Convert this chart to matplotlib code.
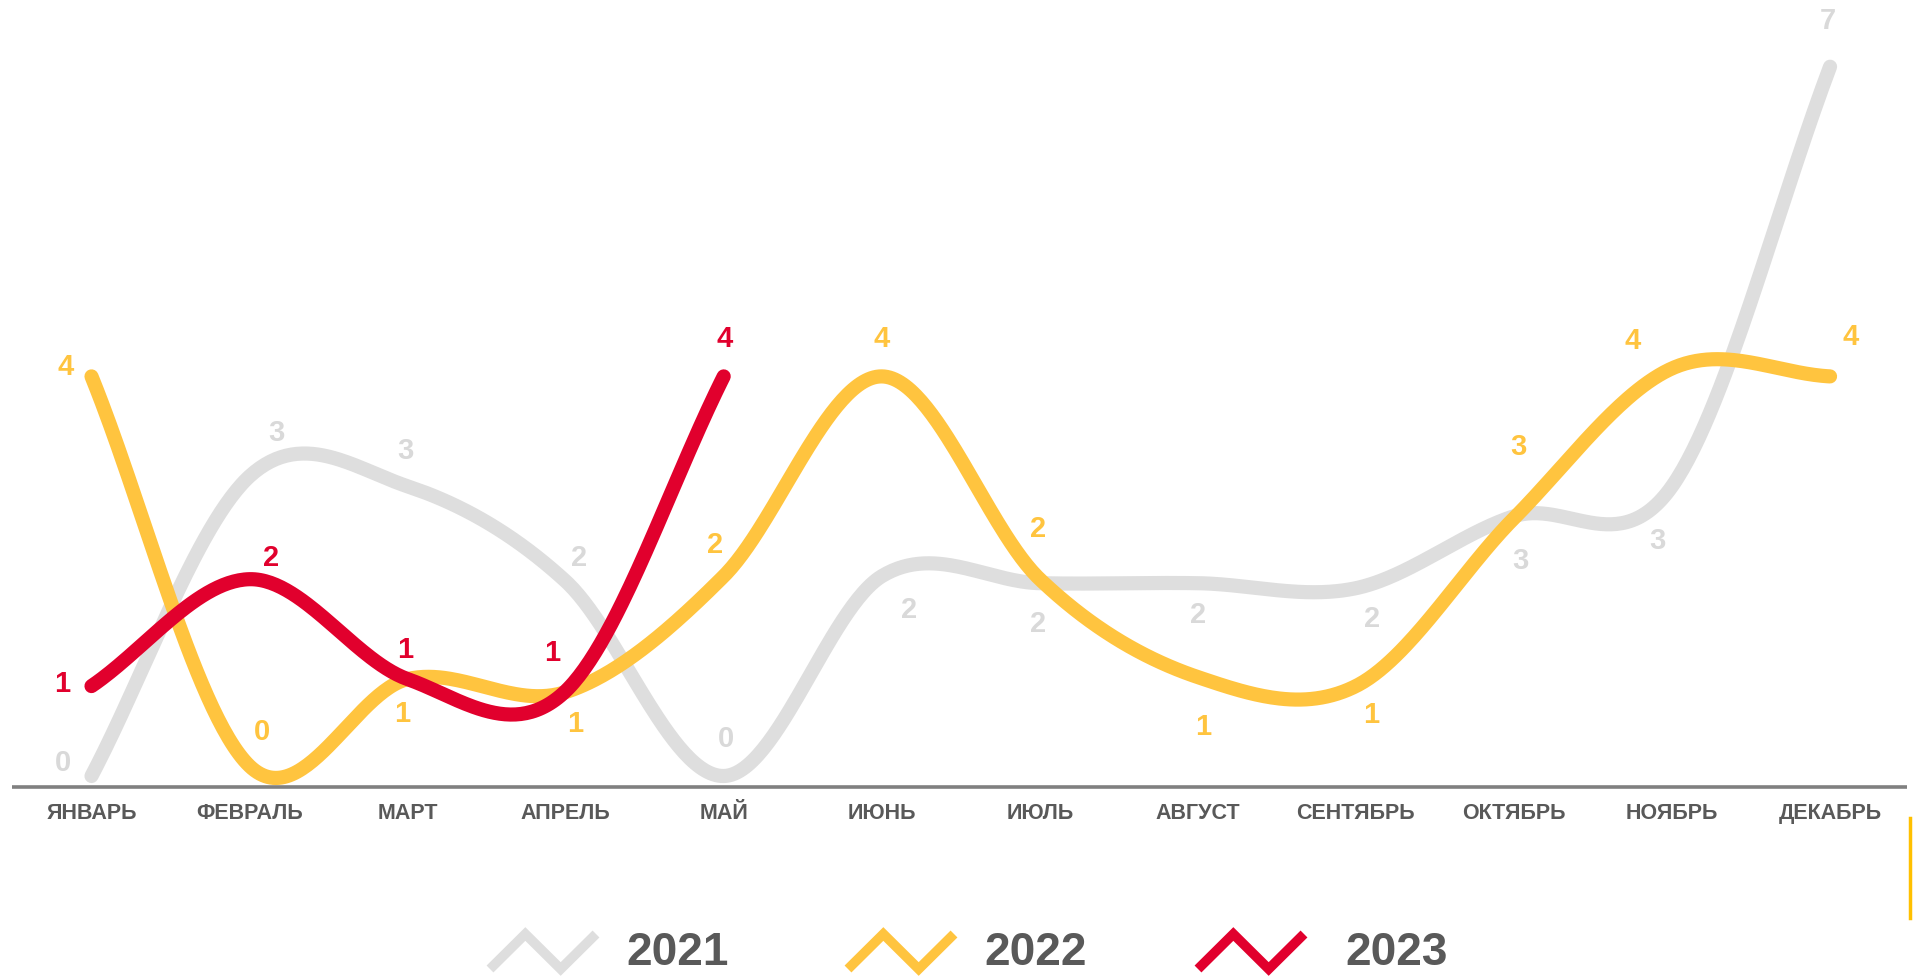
import numpy as np
import matplotlib
matplotlib.use("Agg")
import matplotlib.pyplot as plt
from matplotlib.lines import Line2D

# =========================
# DATA
# =========================
months = ["ЯНВАРЬ", "ФЕВРАЛЬ", "МАРТ", "АПРЕЛЬ", "МАЙ", "ИЮНЬ",
          "ИЮЛЬ", "АВГУСТ", "СЕНТЯБРЬ", "ОКТЯБРЬ", "НОЯБРЬ", "ДЕКАБРЬ"]

y2021 = [0, 3.0, 2.9, 1.95, 0, 2.0, 1.93, 1.93, 1.88, 2.6, 2.9, 7.1]
y2022 = [4.0, 0.1, 0.97, 0.84, 2.0, 4.0, 1.97, 0.99, 0.9, 2.58, 4.08, 4.0]
y2023 = [0.9, 1.97, 0.97, 0.85, 4.0]

years = ["2021", "2022", "2023"]

# =========================
# STYLE
# =========================
C_GRAY = "#DEDEDE"
C_GRAY_TXT = "#D9D9D9"
C_YEL = "#FFC43F"
C_RED = "#E1002D"
C_TXT = "#595959"

NARROW = ["Liberation Sans Narrow", "Liberation Sans", "DejaVu Sans"]
REG = ["Liberation Sans", "DejaVu Sans"]

# label offsets (pixels) for each point
off2021 = [(-28, 13), (27, 43), (-2, 35), (13, 23), (2, 37), (27, -34),
           (-2, -41), (0, -32), (16, -31), (6, -45), (-15, -55), (-2, 46)]
off2022 = [(-26, 9), (12, 34), (-5, -35), (10, -32), (-9, 31), (0, 37),
           (-2, 50), (5, -50), (15, -29), (4, 71), (-39, 27), (21, 39)]
off2023 = [(-29, 2), (22, 21), (-2, 29), (-13, 38), (1, 37)]


def smooth(vals, n=60):
    # catmull-rom like smoothed line
    y = np.asarray(vals, float)
    k = len(y)
    m = np.empty(k)
    m[1:-1] = (y[2:] - y[:-2]) / 2
    m[0] = y[1] - y[0]
    m[-1] = y[-1] - y[-2]
    xs, ys = [], []
    for i in range(k - 1):
        t = np.linspace(0, 1, n, endpoint=(i == k - 2))
        h00 = 2 * t**3 - 3 * t**2 + 1
        h10 = t**3 - 2 * t**2 + t
        h01 = -2 * t**3 + 3 * t**2
        h11 = t**3 - t**2
        ys.append(h00 * y[i] + h10 * m[i] + h01 * y[i + 1] + h11 * m[i + 1])
        xs.append(i + t)
    return np.concatenate(xs), np.concatenate(ys)


W, H = 1914, 976
fig = plt.figure(figsize=(W / 100, H / 100), dpi=100)
ax = fig.add_axes([0, 0, 1, 1])
ax.set_axis_off()

# month spacing / value scale in pixels
px_m = 158.05
px_v = 99.9
ax.set_xlim(-91.5 / px_m, (W - 91.5) / px_m)
ax.set_ylim(-200 / px_v, (H - 200) / px_v)

series = [
    (y2021, C_GRAY, C_GRAY_TXT, off2021, 2),
    (y2022, C_YEL, C_YEL, off2022, 3),
    (y2023, C_RED, C_RED, off2023, 4),
]

for vals, col, tcol, offs, z in series:
    sx, sy = smooth(vals)
    ax.plot(sx, sy, color=col, lw=10.2, solid_capstyle="round", zorder=z)
    for i, v in enumerate(vals):
        ax.annotate(f"{int(round(v))}", (i, v), xytext=offs[i],
                    textcoords="offset pixels", ha="center", va="center",
                    fontsize=21, fontweight="bold", color=tcol,
                    family=REG, zorder=10)

# axis line
ax.plot([-0.503, 11.487], [-0.11, -0.11], color="#808080", lw=2.6,
        solid_capstyle="butt", zorder=1)

for i, m in enumerate(months):
    ax.text(i, -0.38, m, ha="center", va="center", fontsize=15.5,
            fontweight="bold", color=C_TXT, family=NARROW)


# =========================
# LEGEND
# =========================
def fx(px):
    return px / W


def fy(py):
    return 1 - py / H


leg_icon_x = [490, 848, 1198]
leg_text_x = [626, 984, 1345]
leg_cols = [C_GRAY, C_YEL, C_RED]

for lab, ix, tx, col in zip(years, leg_icon_x, leg_text_x, leg_cols):
    w, top, bot = 106, 934, 969
    xs = [ix, ix + w / 3, ix + 2 * w / 3, ix + w]
    ys = [bot, top, bot, top]
    fig.add_artist(Line2D([fx(x) for x in xs], [fy(y) for y in ys],
                          color=col, lw=7, solid_capstyle="butt",
                          solid_joinstyle="miter"))
    fig.text(fx(tx), fy(975), lab, ha="left", va="bottom", fontsize=33,
             fontweight="bold", color=C_TXT, family=NARROW)

# small yellow mark at right edge
fig.add_artist(Line2D([fx(1910), fx(1910)], [fy(818), fy(918)],
                      color="#FFC000", lw=2.5))

fig.savefig("out.png", dpi=100, facecolor="white")
